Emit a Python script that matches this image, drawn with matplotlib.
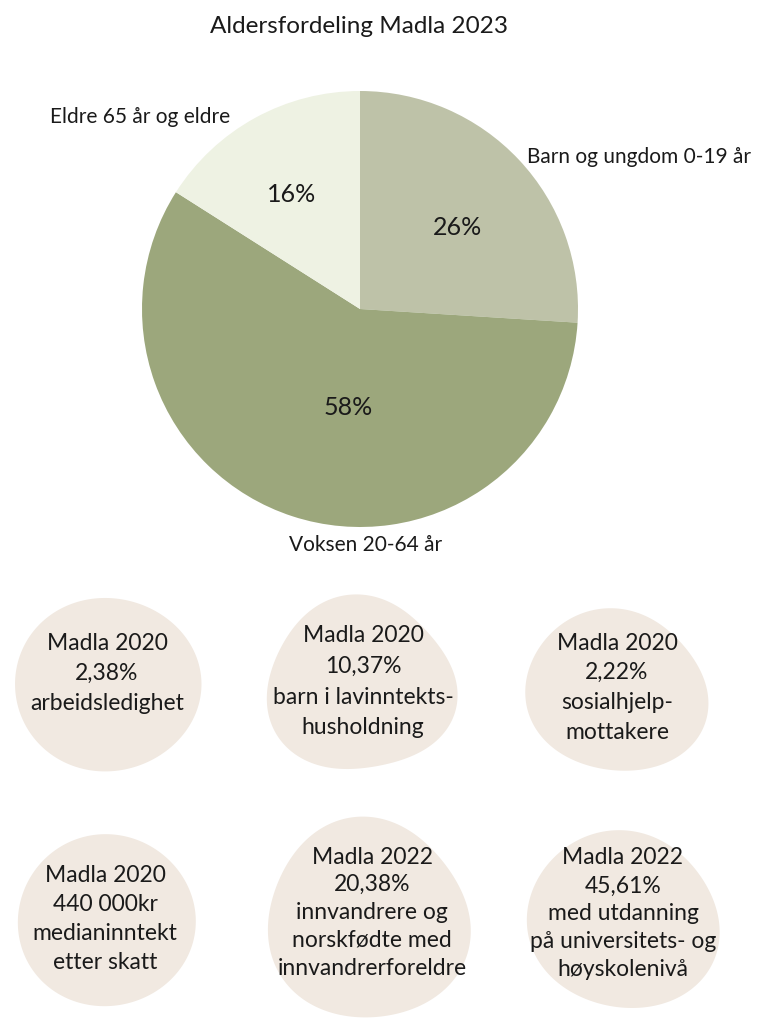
import numpy as np
import matplotlib
matplotlib.use("Agg")
import matplotlib.pyplot as plt
from matplotlib.patches import Polygon

# --- data ---
kategorier = ["Barn og ungdom 0-19 år", "Voksen 20-64 år", "Eldre 65 år og eldre"]
andeler = [26, 58, 16]
farger = ["#bec2a8", "#9ca77c", "#eef2e3"]

bobler = [
    ["Madla 2020", "2,38%", "arbeidsledighet"],
    ["Madla 2020", "10,37%", "barn i lavinntekts-", "husholdning"],
    ["Madla 2020", "2,22%", "sosialhjelp-", "mottakere"],
    ["Madla 2020", "440 000kr", "medianinntekt", "etter skatt"],
    ["Madla 2022", "20,38%", "innvandrere og", "norskfødte med", "innvandrerforeldre"],
    ["Madla 2022", "45,61%", "med utdanning", "på universitets- og", "høyskolenivå"],
]

W, H = 758, 1019
TEKST = "#1a1a1a"
FONT = ["Lato", "DejaVu Sans"]

# boblenes form: senter (px fra toppen), halvakser og radiusfaktorer ved 0, 30, ..., 330 grader
boble_senter = [(108, 685), (364, 684), (617, 689), (107, 920), (368, 917), (624, 919)]
boble_akser = [(94, 88), (97, 91), (90, 81), (90, 87), (105, 102), (97, 89)]
former = [
    [1.00, 0.99, 0.97, 1.00, 1.00, 0.99, 1.00, 0.99, 0.98, 1.00, 0.96, 0.98],
    [0.99, 0.82, 0.93, 0.99, 0.95, 0.97, 0.99, 1.05, 1.00, 0.97, 0.88, 1.00],
    [1.00, 0.92, 0.93, 1.00, 1.00, 1.02, 1.00, 1.04, 1.00, 1.00, 1.07, 1.07],
    [1.00, 0.97, 0.97, 1.00, 0.98, 0.98, 1.00, 1.00, 1.00, 1.00, 0.98, 0.98],
    [1.00, 0.88, 0.92, 1.00, 0.96, 0.92, 0.96, 1.00, 1.00, 1.00, 1.00, 1.00],
    [0.98, 0.92, 0.95, 1.00, 1.00, 1.00, 1.00, 1.00, 0.98, 1.00, 1.04, 1.04],
]
# tekst: midt-x og y for første linje (px fra toppen), linjeavstand
tekst_pos = [(107, 643, 30), (363, 636, 30.5), (617, 643, 29.7),
             (105, 875, 29.3), (372, 857, 27.8), (623, 858, 28)]


def py(y):
    return H - y


def glatt_radius(r, n=360, orden=3):
    # glatt periodisk kurve: behold bare de laveste Fourier-leddene
    r = np.asarray(r, dtype=float)
    c = np.fft.rfft(r) / len(r)
    vinkel = np.linspace(0, 2 * np.pi, n, endpoint=False)
    rr = np.full(n, c[0].real)
    for k in range(1, orden + 1):
        rr += 2 * (c[k].real * np.cos(k * vinkel) - c[k].imag * np.sin(k * vinkel))
    return rr, vinkel


def tegn_boble(ax, senter, akser, r, pos, linjer):
    cx, cy = senter[0], py(senter[1])
    rr, vinkel = glatt_radius(r)
    xs = cx + akser[0] * rr * np.cos(vinkel)
    ys = cy + akser[1] * rr * np.sin(vinkel)
    ax.add_patch(Polygon(np.column_stack([xs, ys]), closed=True,
                         facecolor="#f1e9e1", edgecolor="none", zorder=1))
    tx, ty, dy = pos
    for i, t in enumerate(linjer):
        ax.text(tx, py(ty + i * dy), t, ha="center", va="center",
                fontsize=16.5, family=FONT, color=TEKST, zorder=2)


fig = plt.figure(figsize=(W / 100, H / 100), dpi=100)
ax = fig.add_axes([0, 0, 1, 1])

# --- kakediagram ---
senter = (360, py(309))
radius = 218
kiler, _ = ax.pie(andeler, colors=farger, startangle=90, counterclock=False,
                  center=senter, radius=radius, frame=True,
                  wedgeprops=dict(edgecolor="none", linewidth=0))
ax.set_xlim(0, W)
ax.set_ylim(0, H)
ax.set_aspect("equal")
ax.axis("off")

pct_avstand = [0.58, 0.457, 0.61]
pct_skift = [-3.3, 11.0, 2.0]
for kile, verdi, d, s in zip(kiler, andeler, pct_avstand, pct_skift):
    mid = np.deg2rad((kile.theta1 + kile.theta2) / 2 + s)
    ax.text(senter[0] + d * radius * np.cos(mid), senter[1] + d * radius * np.sin(mid),
            f"{verdi}%", ha="center", va="center", fontsize=18, family=FONT, color=TEKST)

etikett_pos = [(639, 157), (366, 545), (140, 117)]
for navn, (x, y) in zip(kategorier, etikett_pos):
    ax.text(x, py(y), navn, ha="center", va="center", fontsize=15,
            family=FONT, color=TEKST)

ax.text(359, py(26), "Aldersfordeling Madla 2023", ha="center", va="center",
        fontsize=17.5, family=FONT, color=TEKST)

# --- bobler ---
for s, a, r, p, linjer in zip(boble_senter, boble_akser, former, tekst_pos, bobler):
    tegn_boble(ax, s, a, r, p, linjer)

fig.savefig("out.png", dpi=100)
